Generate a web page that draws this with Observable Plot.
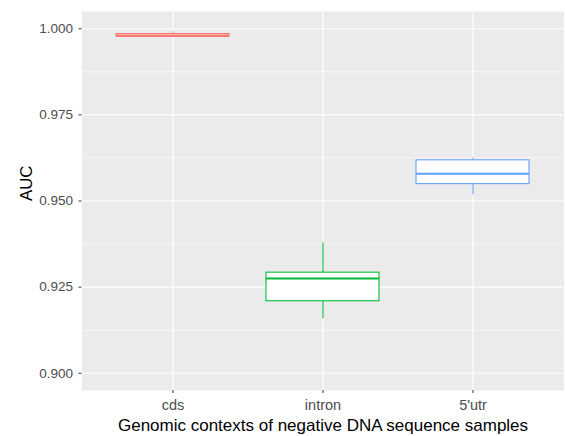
<!DOCTYPE html>
<html><head><meta charset="utf-8">
<script src="https://cdn.jsdelivr.net/npm/d3@7"></script>
<script src="https://cdn.jsdelivr.net/npm/@observablehq/plot@0.6"></script>
<style>body{margin:0;background:#fff} svg{display:block} </style>
</head><body><div id="chart"></div>
<script>
const categories = ["cds", "intron", "5'utr"];
const whiskerLow = [0.9976, 0.9158, 0.9518];
const q1 = [0.99767, 0.9209, 0.9549];
const median = [0.9980, 0.9275, 0.9579];
const q3 = [0.99846, 0.9292, 0.9618];
const whiskerHigh = [0.99913, 0.9378, 0.9625];
const colors = ["#F8766D", "#00BA38", "#619CFF"];
const yTicks = [0.900, 0.925, 0.950, 0.975, 1.000];
const yMinor = [0.9125, 0.9375, 0.9625, 0.9875];
const xTitle = "Genomic contexts of negative DNA sequence samples";
const yTitle = "AUC";

const data = categories.map((c, i) => ({cat: c, lo: whiskerLow[i], q1: q1[i], med: median[i], q3: q3[i], hi: whiskerHigh[i]}));

const font = "'Liberation Sans', Arial, sans-serif";
const chart = Plot.plot({
  width: 565,
  height: 436,
  marginLeft: 81.5,
  marginRight: 1.5,
  marginTop: 11,
  marginBottom: 46,
  style: {fontFamily: font, background: "white", fontSize: "13.5px"},
  x: {type: "band", domain: categories, paddingInner: 0.25, paddingOuter: 0.225, axis: null},
  y: {domain: [0.895, 1.005], axis: null},
  color: {domain: categories, range: colors},
  marks: [
    Plot.frame({fill: "#EBEBEB", stroke: "none"}),
    Plot.gridY(yMinor, {stroke: "white", strokeOpacity: 1, strokeWidth: 0.55}),
    Plot.gridY(yTicks, {stroke: "white", strokeOpacity: 1, strokeWidth: 1.07}),
    Plot.gridX(categories, {stroke: "white", strokeOpacity: 1, strokeWidth: 1.07}),
    Plot.ruleX(data, {x: "cat", y1: "lo", y2: "q1", stroke: "cat", strokeWidth: 1.07}),
    Plot.ruleX(data, {x: "cat", y1: "q3", y2: "hi", stroke: "cat", strokeWidth: 1.07}),
    Plot.barY(data, {x: "cat", y1: "q1", y2: "q3", fill: "white", stroke: "cat", strokeWidth: 1.07}),
    Plot.tickY(data, {x: "cat", y: "med", stroke: "cat", strokeWidth: 2.1}),
    Plot.axisY(yTicks, {tickSize: 3, tickPadding: 6, tickFormat: d3.format(".3f"), fontSize: 13.5, fill: "#4D4D4D", stroke: "#333333", label: null}),
    Plot.axisX(categories, {tickSize: 3, tickPadding: 6.5, fontSize: 14.5, fill: "#4D4D4D", stroke: "#333333", label: null}),
    Plot.text([xTitle], {frameAnchor: "bottom", lineAnchor: "top", dy: 28.5, text: d => d, fontSize: 17, fill: "black"}),
    Plot.text([yTitle], {frameAnchor: "left", rotate: -90, dx: -55.5, text: d => d, fontSize: 16.8, fill: "black"})
  ]
});
document.getElementById("chart").appendChild(chart);
</script>
</body></html>
